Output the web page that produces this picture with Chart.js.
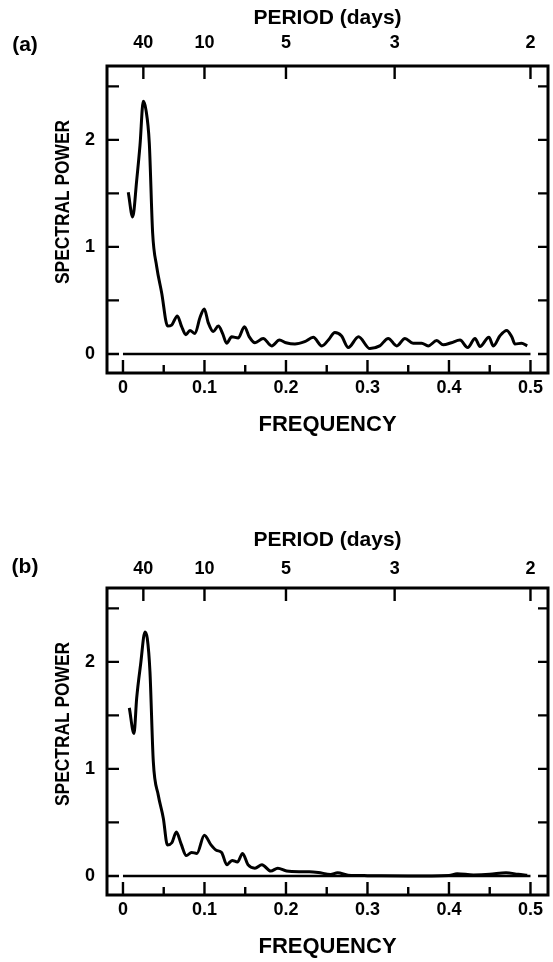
<!DOCTYPE html>
<html><head><meta charset="utf-8">
<script src="https://cdn.jsdelivr.net/npm/chart.js@4/dist/chart.umd.min.js"></script>
<style>
html,body{margin:0;padding:0;background:#fff;width:553px;height:962px;overflow:hidden}
.wrap{position:absolute;left:0;width:553px;height:440px}
</style></head><body>
<div class="wrap" style="top:0"><canvas id="ca"></canvas></div>
<div class="wrap" style="top:522px"><canvas id="cb"></canvas></div>
<script>
// ---- data ----
const freqTicks = [0, 0.05, 0.1, 0.15, 0.2, 0.25, 0.3, 0.35, 0.4, 0.45, 0.5];
const freqTickLabels = ['0', '', '0.1', '', '0.2', '', '0.3', '', '0.4', '', '0.5'];
const periodDays = [40, 10, 5, 3, 2];
const periodLabels = ['40', '10', '5', '3', '2'];
const powerTicks = [0, 0.5, 1, 1.5, 2, 2.5];
const powerTickLabels = ['0', '', '1', '', '2', ''];

const freqA = [0.0065,0.0119,0.0168,0.0209,0.0249,0.0282,0.0323,0.0364,0.0413,0.0475,0.0548,0.0597,0.0667,0.072,0.0773,0.0822,0.0883,0.0945,0.0998,0.1047,0.1108,0.117,0.1223,0.1272,0.1334,0.1415,0.149,0.155,0.162,0.172,0.1825,0.192,0.2,0.211,0.223,0.2335,0.244,0.252,0.26,0.268,0.2765,0.289,0.303,0.315,0.3255,0.336,0.346,0.356,0.3665,0.3745,0.385,0.393,0.403,0.4135,0.423,0.432,0.438,0.449,0.4545,0.4626,0.4708,0.477,0.481,0.489,0.496];
const powerA = [1.51,1.28,1.62,1.95,2.36,2.28,1.97,1.13,0.82,0.57,0.26,0.27,0.355,0.255,0.18,0.22,0.19,0.34,0.42,0.29,0.21,0.26,0.19,0.10,0.16,0.15,0.255,0.16,0.105,0.145,0.075,0.13,0.105,0.093,0.115,0.155,0.075,0.13,0.20,0.17,0.06,0.16,0.05,0.075,0.145,0.075,0.145,0.10,0.10,0.075,0.125,0.085,0.105,0.13,0.06,0.145,0.07,0.155,0.075,0.17,0.22,0.16,0.093,0.10,0.075];

const freqB = [0.0078,0.0135,0.0168,0.0217,0.027,0.0298,0.0331,0.0372,0.0433,0.0495,0.0545,0.06,0.0655,0.0713,0.0777,0.0842,0.0907,0.0998,0.108,0.1145,0.121,0.1274,0.1339,0.1404,0.1468,0.1533,0.1619,0.1705,0.1813,0.19,0.2008,0.216,0.2287,0.2396,0.2547,0.2634,0.2763,0.30,0.35,0.40,0.41,0.43,0.45,0.47,0.485,0.496];
const powerB = [1.57,1.33,1.66,1.98,2.28,2.22,1.91,1.07,0.755,0.54,0.29,0.31,0.41,0.30,0.19,0.22,0.21,0.38,0.29,0.24,0.22,0.105,0.145,0.13,0.21,0.105,0.072,0.105,0.046,0.072,0.046,0.04,0.04,0.033,0.013,0.03,0.007,0.003,0.0,0.005,0.02,0.01,0.015,0.03,0.015,0.007];

const zeroFreq = [0, 0.5];
const zeroPower = [0, 0];

// ---- rendering ----
const FONT = '"Liberation Sans", Arial, Helvetica, sans-serif';
Chart.defaults.font.family = FONT;
Chart.defaults.color = '#000';

function pts(xs, ys){ return xs.map((x,i)=>({x:x, y:ys[i]})); }

const framePlugin = {
  id: 'frame',
  afterDraw(chart, args, opts){
    const ctx = chart.ctx, a = chart.chartArea;
    const xs = chart.scales.x, ys = chart.scales.y;
    ctx.save();
    ctx.strokeStyle = '#000';
    ctx.lineWidth = 3;
    ctx.lineCap = 'butt';
    ctx.strokeRect(a.left, a.top, a.right - a.left, a.bottom - a.top);
    ctx.lineWidth = 2.4;
    ctx.beginPath();
    freqTicks.forEach((v,i)=>{
      const px = xs.getPixelForValue(v);
      const len = freqTickLabels[i] ? 13 : 8;
      ctx.moveTo(px, a.bottom); ctx.lineTo(px, a.bottom - len);
    });
    periodDays.forEach(d=>{
      const px = xs.getPixelForValue(1/d);
      ctx.moveTo(px, a.top); ctx.lineTo(px, a.top + 13);
    });
    powerTicks.forEach(v=>{
      const py = ys.getPixelForValue(v);
      ctx.moveTo(a.left, py); ctx.lineTo(a.left + 12, py);
      ctx.moveTo(a.right, py); ctx.lineTo(a.right - 10, py);
    });
    ctx.stroke();
    ctx.fillStyle = '#000';
    ctx.font = 'bold 20px ' + FONT;
    ctx.textAlign = 'center';
    ctx.textBaseline = 'middle';
    ctx.save();
    ctx.translate(63, 202);
    ctx.rotate(-Math.PI/2);
    const w = ctx.measureText('SPECTRAL POWER').width;
    ctx.scale(164 / w, 1);
    ctx.fillText('SPECTRAL POWER', 0, 0);
    ctx.restore();
    ctx.font = 'bold 21px ' + FONT;
    ctx.fillText(opts.label, 25, opts.labelY);
    ctx.restore();
  }
};

function makeChart(id, label, labelY, topPad, xs, ys){
  return new Chart(document.getElementById(id), {
    type: 'line',
    data: {
      datasets: [
        { data: pts(zeroFreq, zeroPower), borderColor: '#000', borderWidth: 2.6, pointRadius: 0, tension: 0 },
        { data: pts(xs, ys), borderColor: '#000', borderWidth: 3, pointRadius: 0, cubicInterpolationMode: 'monotone', borderJoinStyle: 'round' }
      ]
    },
    options: {
      responsive: true,
      maintainAspectRatio: false,
      animation: false,
      events: [],
      layout: { padding: { left: 0, right: 5, top: 0, bottom: 0 } },
      plugins: { legend: { display: false }, tooltip: { enabled: false }, frame: { label: label, labelY: labelY } },
      scales: {
        x: {
          type: 'linear', position: 'bottom', min: -0.0196, max: 0.5215,
          afterBuildTicks: s => { s.ticks = freqTicks.map(v=>({value:v})); },
          afterFit: s => { s.height = 67; },
          grid: { display: false, drawTicks: false },
          border: { display: false },
          ticks: { autoSkip: false, maxRotation: 0, padding: 4, font: { size: 18, weight: 'bold', lineHeight: 1.2 },
                   callback: (v, i) => freqTickLabels[i] },
          title: { display: true, text: 'FREQUENCY', font: { size: 22, weight: 'bold', lineHeight: 1.2 }, padding: { top: 0, bottom: 2 } }
        },
        x2: {
          type: 'linear', position: 'top', min: -0.0196, max: 0.5215,
          afterBuildTicks: s => { s.ticks = periodDays.map(d=>({value: 1/d})); },
          afterFit: s => { s.height = 66; },
          grid: { display: false, drawTicks: false },
          border: { display: false },
          ticks: { autoSkip: false, maxRotation: 0, padding: topPad, font: { size: 18, weight: 'bold', lineHeight: 1.2 },
                   callback: (v, i) => periodLabels[i] },
          title: { display: true, text: 'PERIOD (days)', font: { size: 21, weight: 'bold', lineHeight: 1.2 }, padding: { top: 6, bottom: 0 } }
        },
        y: {
          type: 'linear', position: 'left', min: -0.178, max: 2.69,
          afterBuildTicks: s => { s.ticks = powerTicks.map(v=>({value:v})); },
          afterFit: s => { s.width = 107; },
          grid: { display: false, drawTicks: false },
          border: { display: false },
          ticks: { autoSkip: false, padding: 12, font: { size: 18, weight: 'bold', lineHeight: 1.2 },
                   callback: (v, i) => powerTickLabels[i] }
        }
      }
    },
    plugins: [framePlugin]
  });
}

makeChart('ca', '(a)', 45, 12, freqA, powerA);
makeChart('cb', '(b)', 45, 8, freqB, powerB);
</script>
</body></html>
